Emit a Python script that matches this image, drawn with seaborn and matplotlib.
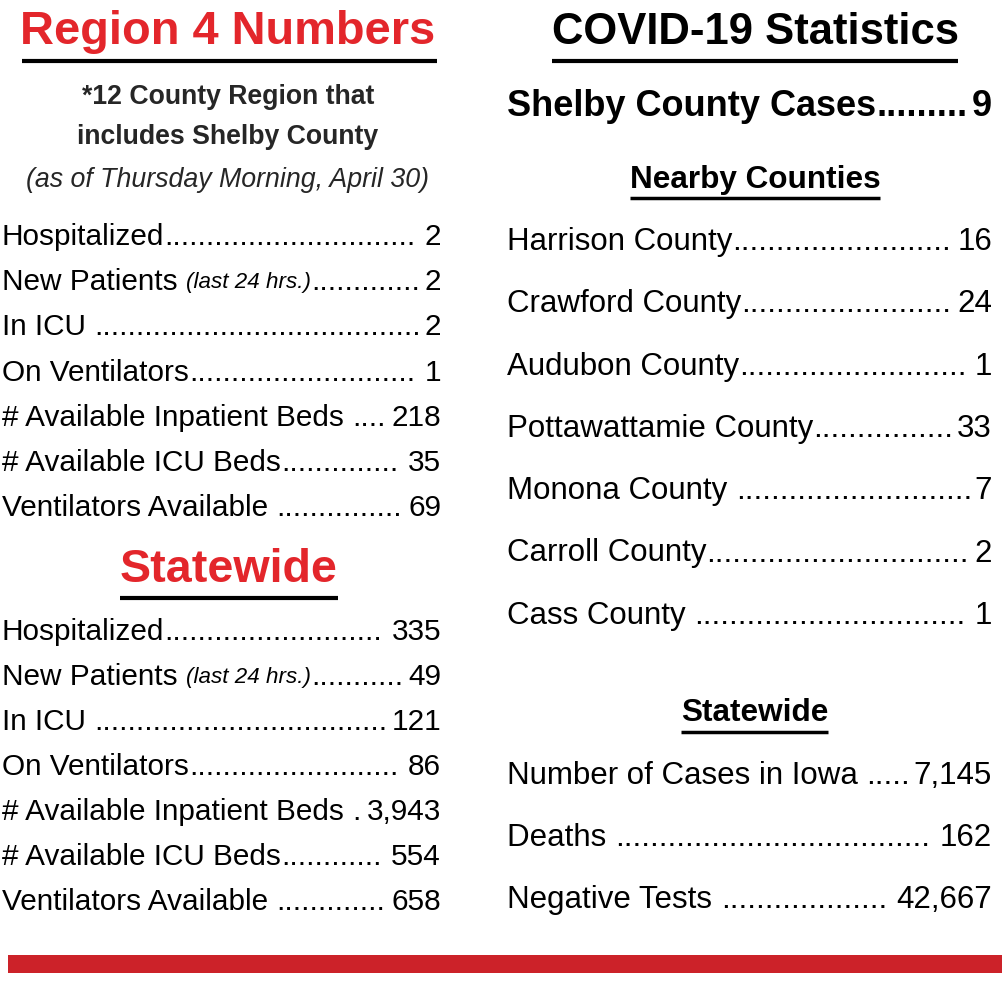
import matplotlib
matplotlib.use("Agg")
import matplotlib.pyplot as plt
import seaborn as sns

sns.set_theme(style="white")
FAM = "Liberation Sans"
plt.rcParams['font.family'] = [FAM, 'DejaVu Sans']

RED = "#e3262b"
BAR_RED = "#cc2229"

region_labels = [["Hospitalized"], ["New Patients ", "(last 24 hrs.)"], ["In ICU "], ["On Ventilators"],
                 ["# Available Inpatient Beds "], ["# Available ICU Beds"], ["Ventilators Available "]]
region_values = ["2", "2", "2", "1", "218", "35", "69"]
state_labels = region_labels
state_values = ["335", "49", "121", "86", "3,943", "554", "658"]
county_labels = ["Harrison County", "Crawford County", "Audubon County", "Pottawattamie County",
                 "Monona County ", "Carroll County", "Cass County "]
county_values = ["16", "24", "1", "33", "7", "2", "1"]
iowa_labels = ["Number of Cases in Iowa ", "Deaths ", "Negative Tests "]
iowa_values = ["7,145", "162", "42,667"]
shelby_value = "9"

W, H = 1005, 1000
fig = plt.figure(figsize=(W/100, H/100), dpi=100)
ax = fig.add_axes([0, 0, 1, 1])
ax.set_xlim(0, W); ax.set_ylim(H, 0); ax.axis("off")
fig.canvas.draw()
R = fig.canvas.get_renderer()

def width(t):
    return t.get_window_extent(R).width

def fit_size(s, target, weight="normal", style="normal"):
    t = ax.text(0, -100, s, fontsize=20, fontweight=weight, fontstyle=style)
    w = width(t); t.remove()
    return 20 * target / w

def leader(y, x0, x1, parts, value, size, weight="normal"):
    x = x0
    for i, p in enumerate(parts):
        style = "italic" if i == 1 else "normal"
        s = size * (0.75 if i == 1 else 1)
        t = ax.text(x, y, p, fontsize=s, fontstyle=style, fontweight=weight, va="center", ha="left", color="black")
        x += width(t)
    v = ax.text(x1, y, value, fontsize=size, fontweight=weight, va="center", ha="right", color="black")
    vx = x1 - width(v)
    probe = ax.text(0, -100, "." * 10, fontsize=size, fontweight=weight)
    dw = width(probe) / 10
    probe.remove()
    n = max(0, int((vx - x - 2) / dw))
    ax.text(x, y, "." * n, fontsize=size, fontweight=weight, va="center", ha="left", color="black")

def header(x, y, s, target, color, x0, x1, uy, lw=3):
    size = fit_size(s, target, "bold")
    ax.text(x, y, s, fontsize=size, fontweight="bold", color=color, ha="center", va="center")
    ax.plot([x0, x1], [uy, uy], color="black", lw=lw, solid_capstyle="butt")

# Left column
header(228, 32, "Region 4 Numbers", 415, RED, 22, 437, 61)
s1 = fit_size("*12 County Region that", 293, "bold")
ax.text(228, 97, "*12 County Region that", fontsize=s1, fontweight="bold", ha="center", va="center")
ax.text(228, 137, "includes Shelby County", fontsize=s1, fontweight="bold", ha="center", va="center")
s2 = fit_size("(as of Thursday Morning, April 30)", 402, style="italic")
ax.text(228, 180, "(as of Thursday Morning, April 30)", fontsize=s2, fontstyle="italic", ha="center", va="center")
ls = fit_size("# Available Inpatient Beds ", 350)
for i, (l, v) in enumerate(zip(region_labels, region_values)):
    leader(237 + i * 45.2, 2, 441, l, v, ls)
header(229, 570, "Statewide", 218, RED, 120, 338, 598)
for i, (l, v) in enumerate(zip(state_labels, state_values)):
    leader(632 + i * 45, 2, 441, l, v, ls)

# Right column
header(755, 32, "COVID-19 Statistics", 406, "black", 552, 958, 61)
ss = fit_size("Shelby County Cases", 369, "bold")
leader(107, 507, 992, ["Shelby County Cases"], shelby_value, ss, "bold")
header(755, 180, "Nearby Counties", 250, "black", 630, 880, 198, 2.5)
cs = fit_size("Pottawattamie County", 305)
for i, (l, v) in enumerate(zip(county_labels, county_values)):
    leader(242 + i * 62.3, 507, 992, [l], v, cs)
header(755, 713, "Statewide", 147, "black", 681, 828, 732, 2.5)
for i, (l, v) in enumerate(zip(iowa_labels, iowa_values)):
    leader(776 + i * 62, 507, 992, [l], v, cs)

ax.fill_between([8, 1002], 955, 973, color=BAR_RED, lw=0)
fig.savefig("out.png", dpi=100, facecolor="white")
